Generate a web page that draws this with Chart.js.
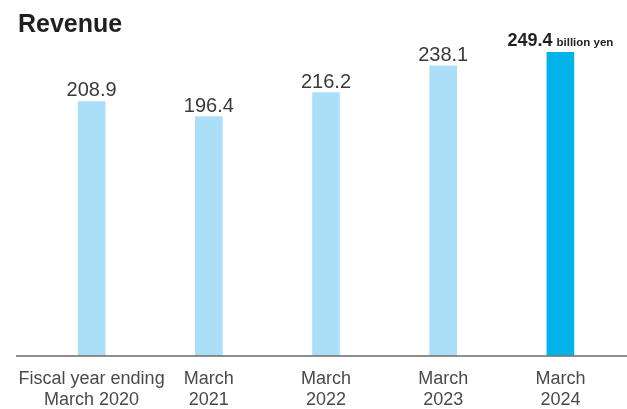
<!DOCTYPE html>
<html>
<head>
<meta charset="utf-8">
<script src="https://cdn.jsdelivr.net/npm/chart.js@4"></script>
<style>
  html, body { margin: 0; padding: 0; background: #fff; }
  #wrap { width: 627px; height: 409px; position: relative; }
</style>
</head>
<body>
<div id="wrap"><canvas id="revenueChart"></canvas></div>
<script>
const years = [
    ['Fiscal year ending', 'March 2020'],
    ['March', '2021'],
    ['March', '2022'],
    ['March', '2023'],
    ['March', '2024']
];
const revenue = [208.9, 196.4, 216.2, 238.1, 249.4];
const barColors = ['#abdff8', '#abdff8', '#abdff8', '#abdff8', '#00b4ea'];
const unitLabel = 'billion yen';
const titleText = 'Revenue';

const FONT = "'Liberation Sans', Arial, Helvetica, sans-serif";

// title, baseline and value labels drawn on the canvas
const decorations = {
    id: 'decorations',
    afterDraw(chart) {
        const ctx = chart.ctx;
        const area = chart.chartArea;
        ctx.save();

        ctx.fillStyle = '#231f20';
        ctx.font = 'bold 25px ' + FONT;
        ctx.textAlign = 'left';
        ctx.textBaseline = 'alphabetic';
        ctx.fillText(titleText, 18, 32);

        ctx.strokeStyle = '#231f20';
        ctx.lineWidth = 1.2;
        ctx.beginPath();
        ctx.moveTo(16, area.bottom + 0.5);
        ctx.lineTo(627, area.bottom + 0.5);
        ctx.stroke();

        const meta = chart.getDatasetMeta(0);
        meta.data.forEach((bar, i) => {
            const txt = revenue[i].toFixed(1);
            const y = bar.y - 5;
            if (i === revenue.length - 1) {
                ctx.font = 'bold 18px ' + FONT;
                const w1 = ctx.measureText(txt).width;
                ctx.font = 'bold 11.5px ' + FONT;
                const w2 = ctx.measureText(unitLabel).width;
                const gap = 4;
                let x = bar.x - (w1 + gap + w2) / 2;
                ctx.textAlign = 'left';
                ctx.fillStyle = '#231f20';
                ctx.font = 'bold 18px ' + FONT;
                ctx.fillText(txt, x, y - 1);
                ctx.font = 'bold 11.5px ' + FONT;
                ctx.fillText(unitLabel, x + w1 + gap, y - 1);
            } else {
                ctx.font = '20px ' + FONT;
                ctx.textAlign = 'center';
                ctx.fillStyle = '#3a3a3a';
                ctx.fillText(txt, bar.x, y);
            }
        });
        ctx.restore();
    }
};

new Chart(document.getElementById('revenueChart'), {
    type: 'bar',
    data: {
        labels: years,
        datasets: [{
            data: revenue,
            backgroundColor: barColors,
            borderWidth: 0,
            barThickness: 27
        }]
    },
    options: {
        responsive: true,
        maintainAspectRatio: false,
        animation: false,
        devicePixelRatio: 1,
        layout: { padding: { top: 15, left: 33, right: 8, bottom: 0 } },
        plugins: {
            legend: { display: false },
            tooltip: { enabled: false },
            title: { display: false }
        },
        scales: {
            x: {
                grid: { display: false, drawTicks: false },
                border: { display: false },
                afterFit(scale) { scale.height = 53.5; },
                ticks: {
                    color: '#4a4a4a',
                    padding: 13.5,
                    maxRotation: 0,
                    autoSkip: false,
                    font: { family: FONT, size: 18, lineHeight: 1.15 }
                }
            },
            y: {
                display: false,
                min: 0,
                max: 280
            }
        }
    },
    plugins: [decorations]
});
</script>
</body>
</html>
